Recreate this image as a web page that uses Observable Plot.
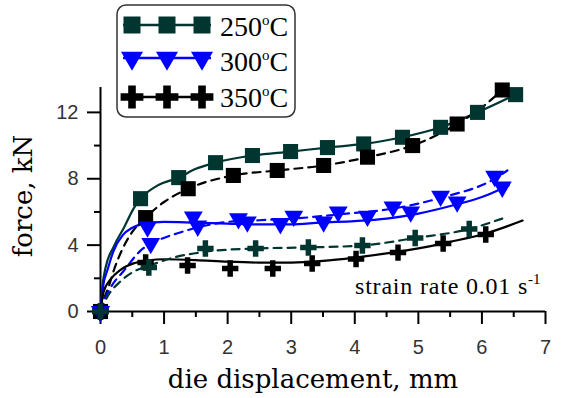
<!DOCTYPE html>
<html>
<head>
<meta charset="utf-8">
<script src="https://cdn.jsdelivr.net/npm/d3@7"></script>
<script src="https://cdn.jsdelivr.net/npm/@observablehq/plot@0.6"></script>
<style>
  html, body { margin: 0; padding: 0; background: #fff; }
</style>
</head>
<body>
<div id="chart"></div>
<script>
// ---- data ----
const legendLabels = ["250", "300", "350"];
const xTicks = [0, 1, 2, 3, 4, 5, 6, 7];
const xMinor = [0.5, 1.5, 2.5, 3.5, 4.5, 5.5, 6.5];
const yTicks = [0, 4, 8, 12];
const yMinor = [2, 6, 10];

// 250 C, solid curve, teal squares
const s250aMarkX = [0, 0.63, 1.23, 1.81, 2.39, 2.99, 3.57, 4.14, 4.75, 5.35, 5.93, 6.53];
const s250aMarkY = [0, 6.8, 8.07, 8.97, 9.4, 9.64, 9.88, 10.1, 10.5, 11.1, 12.0, 13.07];
const s250aLineX = [0, 0.03, 0.08, 0.2, 0.37, 0.52, 0.63, 0.9, 1.23, 1.5, 1.81, 2.39, 2.99, 3.57, 4.14, 4.75, 5.35, 5.93, 6.53];
const s250aLineY = [0, 1.5, 2.65, 3.85, 5.06, 6.2, 6.8, 7.6, 8.07, 8.6, 8.97, 9.4, 9.64, 9.88, 10.1, 10.5, 11.1, 12.0, 13.07];
// 250 C, dashed curve, black squares
const s250bMarkX = [0, 0.71, 1.38, 2.09, 2.78, 3.51, 4.2, 4.91, 5.61, 6.32];
const s250bMarkY = [0, 5.66, 7.4, 8.2, 8.5, 8.8, 9.3, 10.0, 11.3, 13.35];
const s250bLineX = [0, 0.04, 0.12, 0.22, 0.35, 0.5, 0.71, 1.0, 1.38, 2.09, 2.78, 3.51, 4.2, 4.91, 5.61, 6.0, 6.32];
const s250bLineY = [0, 0.6, 1.4, 2.6, 3.8, 4.8, 5.66, 6.6, 7.4, 8.2, 8.5, 8.8, 9.3, 10.0, 11.3, 12.3, 13.35];
// 300 C, solid curve, blue triangles
const s300aMarkX = [0, 0.74, 1.53, 2.31, 2.83, 3.51, 4.2, 4.88, 5.61, 6.32];
const s300aMarkY = [0, 5.1, 5.15, 5.4, 5.3, 5.4, 5.75, 6.0, 6.6, 7.5];
const s300aLineX = [0, 0.04, 0.11, 0.2, 0.35, 0.5, 0.7, 1.0, 1.5, 2.0, 2.5, 3.0, 3.46, 4.0, 4.5, 5.0, 5.55, 6.0, 6.42];
const s300aLineY = [0, 1.5, 2.5, 3.6, 4.6, 5.05, 5.3, 5.4, 5.35, 5.3, 5.25, 5.25, 5.36, 5.45, 5.6, 5.9, 6.4, 6.9, 7.6];
// 300 C, dashed curve, blue triangles
const s300bMarkX = [0, 0.79, 1.46, 2.17, 3.04, 3.74, 4.6, 5.35, 6.2];
const s300bMarkY = [0, 4.1, 5.7, 5.6, 5.75, 6.0, 6.3, 6.95, 8.15];
const s300bLineX = [0, 0.05, 0.16, 0.37, 0.63, 0.9, 1.2, 1.46, 2.0, 2.5, 3.04, 3.74, 4.6, 5.35, 6.2, 6.4];
const s300bLineY = [0, 0.6, 1.45, 2.47, 3.67, 4.28, 4.7, 5.0, 5.4, 5.5, 5.6, 5.85, 6.2, 6.85, 8.0, 8.5];
// 350 C, solid curve, black crosses
const s350aMarkX = [0, 0.71, 1.37, 2.04, 2.71, 3.33, 4.02, 4.68, 5.39, 6.06];
const s350aMarkY = [0, 2.95, 2.77, 2.59, 2.59, 2.89, 3.16, 3.55, 4.1, 4.64];
const s350aLineX = [0, 0.05, 0.16, 0.31, 0.52, 0.74, 1.0, 1.5, 2.0, 2.5, 3.0, 3.5, 4.0, 4.5, 5.0, 5.5, 6.06, 6.64];
const s350aLineY = [0, 1.2, 1.95, 2.5, 2.9, 3.07, 3.15, 3.1, 3.0, 2.95, 2.95, 3.05, 3.25, 3.5, 3.8, 4.2, 4.7, 5.48];
// 350 C, dashed curve, teal crosses
const s350bMarkX = [0, 0.76, 1.65, 2.44, 3.27, 4.12, 4.95, 5.8];
const s350bMarkY = [0, 2.65, 3.8, 3.8, 3.86, 3.98, 4.43, 4.97];
const s350bLineX = [0, 0.11, 0.31, 0.52, 0.76, 1.15, 1.65, 2.44, 3.27, 4.12, 4.95, 5.8, 6.32];
const s350bLineY = [0, 0.9, 1.8, 2.4, 2.75, 3.25, 3.6, 3.8, 3.86, 3.98, 4.43, 4.97, 5.6];

// ---- styles ----
const TEAL = "#003530", BLUE = "#0000ff", BLACK = "#000000";
const rows = (xs, ys) => xs.map((x, i) => ({x, y: ys[i]}));
const DASH = "8,6";

const series = [
  {line: rows(s250aLineX, s250aLineY), mark: rows(s250aMarkX, s250aMarkY), lc: TEAL, mc: TEAL, dash: null, sym: "square", r: 8.5, rot: 0},
  {line: rows(s250bLineX, s250bLineY), mark: rows(s250bMarkX, s250bMarkY), lc: BLACK, mc: BLACK, dash: DASH, sym: "square", r: 8.5, rot: 0},
  {line: rows(s300aLineX, s300aLineY), mark: rows(s300aMarkX, s300aMarkY), lc: BLUE, mc: BLUE, dash: null, sym: "triangle", r: 7, rot: 180},
  {line: rows(s300bLineX, s300bLineY), mark: rows(s300bMarkX, s300bMarkY), lc: BLUE, mc: BLUE, dash: DASH, sym: "triangle", r: 7, rot: 180},
  {line: rows(s350aLineX, s350aLineY), mark: rows(s350aMarkX, s350aMarkY), lc: BLACK, mc: BLACK, dash: null, sym: "cross", r: 6.9, rot: 0},
  {line: rows(s350bLineX, s350bLineY), mark: rows(s350bMarkX, s350bMarkY), lc: TEAL, mc: TEAL, dash: DASH, sym: "cross", r: 6.9, rot: 0}
];

const lineMarks = series.map(s => Plot.line(s.line, {
  x: "x", y: "y", stroke: s.lc, strokeWidth: 2.2, curve: "monotone-x",
  strokeDasharray: s.dash ?? undefined
}));
const dotMarks = series.map(s => Plot.dot(s.mark, {
  x: "x", y: "y", symbol: s.sym, r: s.r, fill: s.mc, stroke: "none", rotate: s.rot
}));

const blank = () => "";
const plain = d => String(d);

const chart = Plot.plot({
  width: 561,
  height: 398,
  marginLeft: 100,
  marginRight: 16,
  marginTop: 87,
  marginBottom: 87,
  x: {domain: [0, 7], axis: null},
  y: {domain: [0, 13.5], axis: null},
  style: {background: "white", overflow: "visible", fontFamily: "Liberation Sans"},
  marks: [
    Plot.axisX({ticks: xTicks, tickSize: 13, tickFormat: blank, label: null, strokeWidth: 2, color: BLACK}),
    Plot.axisX({ticks: xMinor, tickSize: 6, tickFormat: blank, label: null, strokeWidth: 2, color: BLACK}),
    Plot.axisX({ticks: xTicks, tickSize: 0, tickPadding: 28, tickFormat: plain, label: null, fontSize: 20, color: "#333", fontFamily: "Liberation Sans"}),
    Plot.axisY({ticks: yTicks, tickSize: 13, tickFormat: blank, label: null, strokeWidth: 2, color: BLACK}),
    Plot.axisY({ticks: yMinor, tickSize: 6, tickFormat: blank, label: null, strokeWidth: 2, color: BLACK}),
    Plot.axisY({ticks: yTicks, tickSize: 0, tickPadding: 22, tickFormat: plain, label: null, fontSize: 20, color: "#333", fontFamily: "Liberation Sans"}),
    Plot.ruleY([0], {stroke: BLACK, strokeWidth: 2}),
    Plot.ruleX([0], {stroke: BLACK, strokeWidth: 2}),
    ...lineMarks,
    ...dotMarks
  ]
});

document.getElementById("chart").appendChild(chart);

// ---- titles, annotation and legend ----
const svg = d3.select(chart);
svg.append("text")
  .attr("x", 313).attr("y", 388)
  .attr("text-anchor", "middle")
  .style("font-family", "DejaVu Serif").style("font-size", "26px").attr("fill", "#000")
  .text("die displacement, mm");
svg.append("text")
  .attr("transform", "translate(32,196) rotate(-90)")
  .attr("text-anchor", "middle")
  .style("font-family", "DejaVu Serif").style("font-size", "26px").attr("fill", "#000")
  .text("force, kN");

const ann = svg.append("text")
  .attr("x", 355).attr("y", 294)
  .attr("text-anchor", "start")
  .style("font-family", "Liberation Serif").style("font-size", "24px")
  .style("letter-spacing", "0.8px").attr("fill", "#000");
ann.append("tspan").text("strain rate 0.01 s");
ann.append("tspan").attr("dy", -10).style("font-size", "15px").style("letter-spacing", "0px").text("-1");

const lg = svg.append("g");
lg.append("rect")
  .attr("x", 117).attr("y", 5).attr("width", 178).attr("height", 112)
  .attr("rx", 9).attr("ry", 9)
  .attr("fill", "white").attr("stroke", "#333").attr("stroke-width", 1.5);

const legendRows = [
  {label: legendLabels[0], color: TEAL, sym: d3.symbolSquare, size: 17 * 17, rot: 0, cy: 25, base: 36},
  {label: legendLabels[1], color: BLUE, sym: d3.symbolTriangle, size: 210, rot: 180, cy: 58, base: 71},
  {label: legendLabels[2], color: BLACK, sym: d3.symbolCross, size: 5 * 7.6 * 7.6, rot: 0, cy: 97, base: 107}
];
const markerXs = [132, 167, 202];
for (const row of legendRows) {
  lg.append("line")
    .attr("x1", 123).attr("x2", 211).attr("y1", row.cy).attr("y2", row.cy)
    .attr("stroke", row.color).attr("stroke-width", 2.5);
  for (const mx of markerXs) {
    lg.append("path")
      .attr("d", d3.symbol(row.sym, row.size)())
      .attr("transform", `translate(${mx},${row.cy}) rotate(${row.rot})`)
      .attr("fill", row.color);
  }
  const t = lg.append("text")
    .attr("x", 220).attr("y", row.base)
    .attr("text-anchor", "start")
    .style("font-family", "Liberation Serif").style("font-size", "28px").attr("fill", "#000");
  t.append("tspan").text(row.label);
  t.append("tspan").attr("dy", -11).style("font-size", "15px").text("o");
  t.append("tspan").attr("dy", 11).text("C");
}
</script>
</body>
</html>
